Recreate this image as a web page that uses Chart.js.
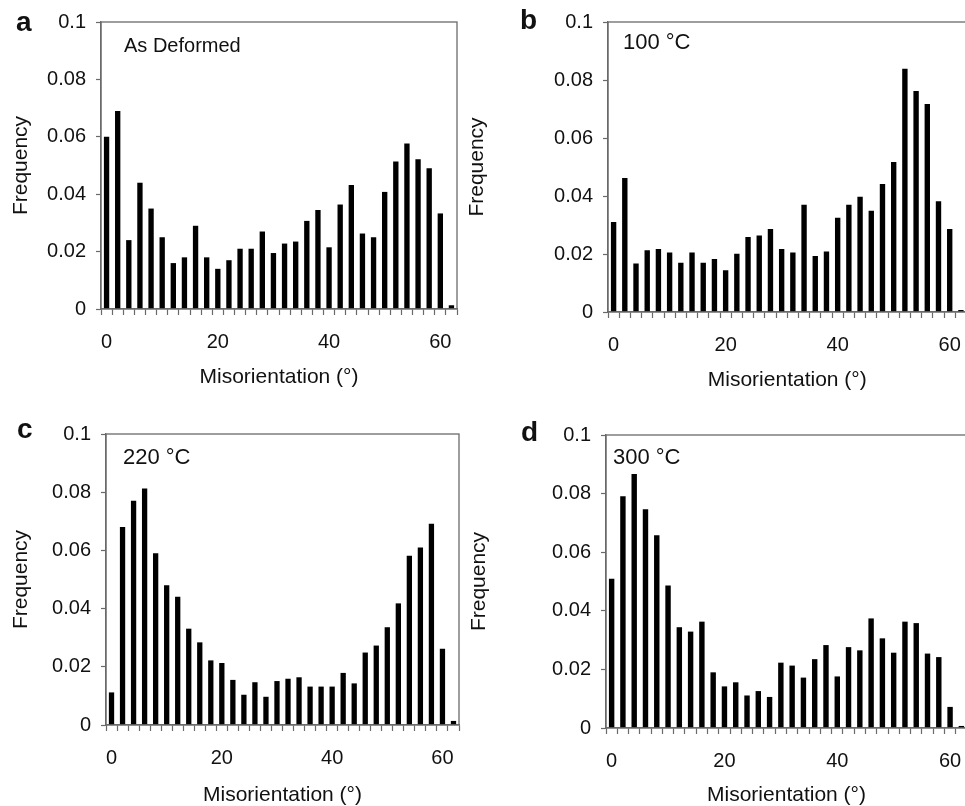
<!DOCTYPE html>
<html>
<head>
<meta charset="utf-8">
<title>Misorientation distributions</title>
<script src="https://cdn.jsdelivr.net/npm/chart.js@4"></script>
<style>
    html, body { margin: 0; padding: 0; background: #fff; overflow: hidden; }
    #fig { position: relative; width: 965px; height: 806px; overflow: hidden; }
    .panel { position: absolute; }
</style>
</head>
<body>
<div id="fig"></div>
<script>
// misorientation bins, 2 degree steps
const categories = [0, 2, 4, 6, 8, 10, 12, 14, 16, 18, 20, 22, 24, 26, 28, 30,
    32, 34, 36, 38, 40, 42, 44, 46, 48, 50, 52, 54, 56, 58, 60, 62]
const xTickLabels = [0, 20, 40, 60]
const yTicks = [0, 0.02, 0.04, 0.06, 0.08, 0.1]
const yTickLabels = ['0', '0.02', '0.04', '0.06', '0.08', '0.1']

const asDeformed = [0.060, 0.069, 0.024, 0.044, 0.035, 0.025, 0.016, 0.018,
    0.029, 0.018, 0.014, 0.017, 0.021, 0.021, 0.027, 0.0195,
    0.0228, 0.0235, 0.0307, 0.0345, 0.0215, 0.0364, 0.0432, 0.0263,
    0.025, 0.0408, 0.0514, 0.0577, 0.0522, 0.049, 0.0333, 0.0013]
const annealed100 = [0.031, 0.0462, 0.0167, 0.0213, 0.0217, 0.0205, 0.017, 0.0205,
    0.017, 0.0183, 0.0144, 0.0201, 0.0259, 0.0264, 0.0286, 0.0217,
    0.0205, 0.037, 0.0193, 0.0209, 0.0325, 0.037, 0.0397, 0.0349,
    0.0441, 0.0517, 0.0839, 0.0762, 0.0717, 0.0382, 0.0286, 0.0007]
const annealed220 = [0.0112, 0.068, 0.0771, 0.0813, 0.059, 0.048, 0.0441, 0.0331,
    0.0284, 0.0222, 0.0213, 0.0155, 0.0104, 0.0147, 0.0097, 0.0151,
    0.0159, 0.0164, 0.0132, 0.0132, 0.0132, 0.0179, 0.0143, 0.0249,
    0.0273, 0.0336, 0.0418, 0.0582, 0.061, 0.0692, 0.0262, 0.0014]
const annealed300 = [0.0509, 0.0791, 0.0867, 0.0747, 0.0658, 0.0486, 0.0344, 0.0329,
    0.0363, 0.019, 0.0142, 0.0156, 0.0111, 0.0126, 0.0106, 0.0223,
    0.0213, 0.0172, 0.0235, 0.0283, 0.0176, 0.0276, 0.0265, 0.0374,
    0.0306, 0.0257, 0.0363, 0.0358, 0.0254, 0.0242, 0.0072, 0.0007]

const font = "'Liberation Sans', Arial, sans-serif"
const axisGrey = '#6a6a6a'
const ink = '#111'

// box = canvas [left, top, width, height], area = plot [left, top, right, bottom], page px
const panels = [
    { letter: 'a', note: 'As Deformed', noteSize: 20, values: asDeformed,
      box: [0, 0, 470, 400], area: [101, 19, 457, 309], letterAt: [-85, 9], noteAt: [23, 30] },
    { letter: 'b', note: '100 °C', noteSize: 22, values: annealed100,
      box: [456, 0, 520, 403], area: [608, 21, 970, 312], letterAt: [-88, 7], noteAt: [15, 27] },
    { letter: 'c', note: '220 °C', noteSize: 22, values: annealed220,
      box: [0, 400, 470, 418], area: [106, 434, 459, 725], letterAt: [-89, 4], noteAt: [17, 30] },
    { letter: 'd', note: '300 °C', noteSize: 22, values: annealed300,
      box: [458, 400, 520, 418], area: [606, 435, 967, 728], letterAt: [-85, 6], noteAt: [7, 29] },
]

// closed frame, panel letter and condition label
const panelText = {
    id: 'panelText',
    afterDraw(chart, args, opts) {
        const {ctx, chartArea: {left, top, right, bottom}} = chart
        ctx.save()
        ctx.strokeStyle = axisGrey
        ctx.lineWidth = 1.3
        ctx.strokeRect(left, top, right - left, bottom - top)
        ctx.fillStyle = ink
        ctx.textAlign = 'left'
        ctx.textBaseline = 'alphabetic'
        ctx.font = `bold 28px ${font}`
        ctx.fillText(opts.letter, left + opts.letterAt[0], top + opts.letterAt[1])
        ctx.font = `${opts.noteSize}px ${font}`
        ctx.fillText(opts.note, left + opts.noteAt[0], top + opts.noteAt[1])
        ctx.restore()
    }
}

const fig = document.getElementById('fig')

panels.forEach(p => {
    const [bl, bt, bw, bh] = p.box
    const [al, at, ar, ab] = p.area
    const holder = document.createElement('div')
    holder.className = 'panel'
    holder.style.left = bl + 'px'
    holder.style.top = bt + 'px'
    holder.style.width = bw + 'px'
    holder.style.height = bh + 'px'
    const canvas = document.createElement('canvas')
    holder.appendChild(canvas)
    fig.appendChild(holder)

    new Chart(canvas, {
        type: 'bar',
        data: {
            labels: categories.map(String),
            datasets: [{
                data: p.values,
                backgroundColor: '#000',
                borderWidth: 0,
                barPercentage: 0.48,
                categoryPercentage: 1,
            }]
        },
        plugins: [panelText],
        options: {
            responsive: true,
            maintainAspectRatio: false,
            animation: false,
            events: [],
            layout: {
                padding: { left: 0, bottom: 0, top: at - bt, right: bl + bw - ar }
            },
            scales: {
                x: {
                    type: 'category',
                    afterFit: s => { s.height = bt + bh - ab },
                    grid: {
                        offset: true,
                        drawOnChartArea: false,
                        drawTicks: true,
                        tickLength: 6,
                        tickWidth: 1.2,
                        color: axisGrey
                    },
                    border: { display: true, color: axisGrey, width: 1.3 },
                    ticks: {
                        autoSkip: false,
                        maxRotation: 0,
                        padding: 15,
                        color: ink,
                        font: { family: font, size: 20 },
                        callback: (v, i) => xTickLabels.includes(categories[i]) ? String(categories[i]) : ''
                    },
                    title: {
                        display: true,
                        text: 'Misorientation (°)',
                        color: ink,
                        font: { family: font, size: 21 },
                        padding: { top: 0, bottom: 10 }
                    }
                },
                y: {
                    min: 0,
                    max: 0.1,
                    afterFit: s => { s.width = al - bl },
                    afterBuildTicks: s => { s.ticks = yTicks.map(v => ({ value: v })) },
                    grid: {
                        drawOnChartArea: false,
                        drawTicks: true,
                        tickLength: 5,
                        tickWidth: 1.2,
                        color: axisGrey
                    },
                    border: { display: true, color: axisGrey, width: 1.3 },
                    ticks: {
                        padding: 10,
                        color: ink,
                        font: { family: font, size: 20 },
                        callback: (v, i) => yTickLabels[i]
                    },
                    title: {
                        display: true,
                        text: 'Frequency',
                        color: ink,
                        font: { family: font, size: 21 },
                        padding: { top: 9, bottom: 0 }
                    }
                }
            },
            plugins: {
                legend: { display: false },
                title: { display: false },
                tooltip: { enabled: false },
                panelText: {
                    letter: p.letter,
                    note: p.note,
                    noteSize: p.noteSize,
                    letterAt: p.letterAt,
                    noteAt: p.noteAt
                }
            }
        }
    })
})
</script>
</body>
</html>
